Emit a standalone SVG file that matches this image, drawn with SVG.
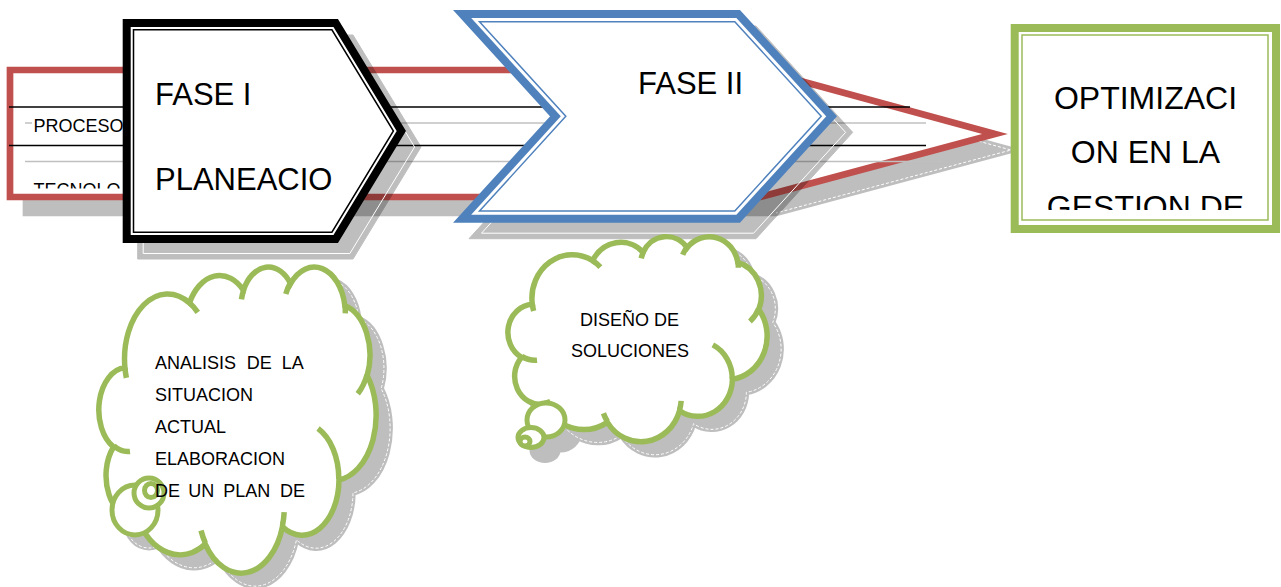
<svg xmlns="http://www.w3.org/2000/svg" xmlns:xlink="http://www.w3.org/1999/xlink" width="1281" height="587" viewBox="0 0 1281 587">
<style>
  text { font-family: "Liberation Sans", Arial, sans-serif; fill: #000; }
  .shadow { opacity: 0.25; }
  .shadow * { fill: #000; stroke: #000; }
  .ln { stroke: #000; stroke-width: 1.5; }
  .lnS { stroke: #c0c0c0; stroke-width: 1.5; }
  .cloudBody { fill: #fff; stroke: #9bbb59; stroke-width: 5.5; }
  .cloudHook { fill: none; stroke: #9bbb59; stroke-width: 5.5; }
  .bubble { fill: #fff; stroke: #9bbb59; stroke-width: 5; }
  .dash { fill: none; stroke: #fff; stroke-width: 1; stroke-dasharray: 3 2; }
  .big { font-size: 31px; }
  .cl { font-size: 18px; }
</style>
<defs>
  <path id="cloudP" vector-effect="non-scaling-stroke" d="M3900,14370 A6753,9190 0 0 1 14004,5201 A5333,7267 0 0 1 22454,3429 A4365,5945 0 0 1 29832,2479 A4857,6595 0 0 1 38317,5574 A5333,7273 0 0 1 41818,15458 A6775,9220 0 0 1 37405,30203 A5785,7867 0 0 1 28557,36814 A6752,9215 0 0 1 16480,39264 A7720,10543 0 0 1 5809,35472 A4360,5918 0 0 1 2116,25554 A4345,5945 0 0 1 3900,14370 Z"/>
  <path id="hookP" vector-effect="non-scaling-stroke" d="M4693,26177 A4345,5945 0 0 1 2159,25379 M6928,34899 A4360,5918 0 0 1 5821,35280 M16478,39090 A6752,9215 0 0 1 15811,37350 M28827,34751 A6752,9215 0 0 1 28561,36660 M34129,22954 A5785,7867 0 0 1 37378,30088 M41798,15354 A5333,7273 0 0 1 40346,18035 M38324,5426 A4857,6595 0 0 1 38400,6690 M29078,3952 A4857,6595 0 0 1 29819,2341 M22141,4720 A4365,5945 0 0 1 22500,3330 M14000,5192 A6753,9190 0 0 1 15301,6541 M4127,15789 A6753,9190 0 0 1 3900,14370"/>
  <clipPath id="clipRed"><rect x="0" y="0" width="1281" height="188.5"/></clipPath>
  <clipPath id="clipGreen"><rect x="1022" y="35" width="246" height="175"/></clipPath>
</defs>

<g id="proceso-arrow">
  <g class="shadow"><path d="M26,86 L776,86 L1011,150 L776,213 L26,213 Z" stroke-width="6.7" stroke-linejoin="miter" stroke-miterlimit="10"/></g>
  <path d="M776,86 L1011,150 L776,213" class="dash"/>
  <path d="M10,70 L760,70 L995,134 L760,197 L10,197 Z" fill="#fff" stroke="#c0504d" stroke-width="6.7" stroke-linejoin="miter" stroke-miterlimit="10"/>
  <line x1="25" y1="123" x2="926" y2="123" class="lnS"/>
  <line x1="25" y1="161.5" x2="942" y2="161.5" class="lnS"/>
  <line x1="9" y1="107" x2="910" y2="107" class="ln"/>
  <line x1="9" y1="145.5" x2="926" y2="145.5" class="ln"/>
  <rect x="32" y="111" width="91" height="28" fill="#fff"/>
  <text x="33.5" y="132" font-size="18">PROCESO</text>
  <text x="33.5" y="196" font-size="18" clip-path="url(#clipRed)">TECNOLO</text>
</g>

<g id="fase1">
  <g class="shadow"><path d="M137.7,35 L353,35 L421,147 L353,259 L137.7,259 Z"/></g>
  <path d="M143.2,40.5 L349.9,40.5 L414.6,147 L349.9,253.5 L143.2,253.5 Z" fill="none" stroke="#fff" stroke-width="1"/>
  <path d="M126.7,23 L335.7,23 L401.3,131 L335.7,239 L126.7,239 Z" fill="#fff" stroke="#000" stroke-width="8"/>
  <path d="M133.5,29.8 L331.9,29.8 L393.4,131 L331.9,232.2 L133.5,232.2 Z" fill="none" stroke="#000" stroke-width="1.5"/>
  <text x="155" y="105" class="big">FASE I</text>
  <text x="155" y="190" class="big">PLANEACIO</text>
</g>

<g id="fase2">
  <g class="shadow"><path d="M469,26 L756,26 L852.7,132.35 L756,238.7 L469,238.7 L566,132.35 Z"/></g>
  <path d="M481.5,31.5 L753.6,31.5 L845.6,132.35 L753.6,233.2 L481.5,233.2 L573.4,132.35 Z" fill="none" stroke="#fff" stroke-width="1"/>
  <path d="M462.1,14 L738.2,14 L831.6,116.35 L738.2,218.7 L462.1,218.7 L555.4,116.35 Z" fill="#fff" stroke="#4f81bd" stroke-width="8"/>
  <path d="M479.5,21.7 L734.8,21.7 L821.2,116.35 L734.8,211 L479.5,211 L565.8,116.35 Z" fill="none" stroke="#4f81bd" stroke-width="1.5"/>
  <text x="638" y="94" class="big">FASE II</text>
</g>

<g id="optimizacion">
  <rect x="1014.7" y="28" width="261.3" height="201" fill="#fff" stroke="#9bbb59" stroke-width="8"/>
  <rect x="1022" y="35" width="246" height="185" fill="none" stroke="#9bbb59" stroke-width="1.5"/>
  <g clip-path="url(#clipGreen)">
    <text x="1145.5" y="109.3" font-size="32" text-anchor="middle">OPTIMIZACI</text>
    <text x="1145.5" y="163.3" font-size="32" text-anchor="middle">ON EN LA</text>
    <text x="1145.5" y="218" font-size="32" text-anchor="middle">GESTION DE</text>
  </g>
</g>

<g id="cloud1">
  <g class="shadow" transform="translate(14,13)">
    <use xlink:href="#cloudP" href="#cloudP" transform="translate(100,266) scale(0.0063889,0.0070833)" stroke-width="5.5"/>
    <ellipse cx="135" cy="510" rx="23" ry="25" stroke-width="5"/>
  </g>
  <g transform="translate(14,13)">
    <use xlink:href="#cloudP" href="#cloudP" transform="translate(100,266) scale(0.0063889,0.0070833)" class="dash"/>
    <ellipse cx="135" cy="510" rx="23" ry="25" class="dash"/>
  </g>
  <use xlink:href="#cloudP" href="#cloudP" transform="translate(100,266) scale(0.0063889,0.0070833)" class="cloudBody"/>
  <use xlink:href="#hookP" href="#hookP" transform="translate(100,266) scale(0.0063889,0.0070833)" class="cloudHook"/>
  <ellipse cx="135" cy="510" rx="23" ry="25" class="bubble"/>
  <ellipse cx="149" cy="493" rx="15" ry="15" class="bubble"/>
  <ellipse cx="151" cy="490.5" rx="6.5" ry="7" class="bubble" stroke-width="4.5"/>
  <text class="cl" y="368.5"><tspan x="155">ANALISIS</tspan><tspan x="246.7">DE</tspan><tspan x="281.7">LA</tspan></text>
  <text class="cl" x="155" y="400.7">SITUACION</text>
  <text class="cl" x="155" y="432.9">ACTUAL</text>
  <text class="cl" x="155" y="465">ELABORACION</text>
  <text class="cl" y="497.3"><tspan x="155">DE</tspan><tspan x="188.3">UN</tspan><tspan x="223.3">PLAN</tspan><tspan x="280">DE</tspan></text>
</g>

<g id="cloud2">
  <g class="shadow" transform="translate(14,13)">
    <use xlink:href="#cloudP" href="#cloudP" transform="translate(509,236) scale(0.0059722,0.0047454)" stroke-width="5.5"/>
    <ellipse cx="546" cy="420" rx="19" ry="17" stroke-width="5"/>
    <ellipse cx="531" cy="437.5" rx="13" ry="10" stroke-width="5"/>
  </g>
  <g transform="translate(14,13)">
    <use xlink:href="#cloudP" href="#cloudP" transform="translate(509,236) scale(0.0059722,0.0047454)" class="dash"/>
  </g>
  <use xlink:href="#cloudP" href="#cloudP" transform="translate(509,236) scale(0.0059722,0.0047454)" class="cloudBody"/>
  <use xlink:href="#hookP" href="#hookP" transform="translate(509,236) scale(0.0059722,0.0047454)" class="cloudHook"/>
  <ellipse cx="546" cy="420" rx="19" ry="17" class="bubble"/>
  <ellipse cx="531" cy="437.5" rx="13" ry="10" class="bubble"/>
  <ellipse cx="525" cy="441.5" rx="5" ry="4.5" class="bubble" stroke-width="4"/>
  <text class="cl" x="629.5" y="326" text-anchor="middle">DISEÑO DE</text>
  <text class="cl" x="630" y="357.3" text-anchor="middle">SOLUCIONES</text>
</g>
</svg>
